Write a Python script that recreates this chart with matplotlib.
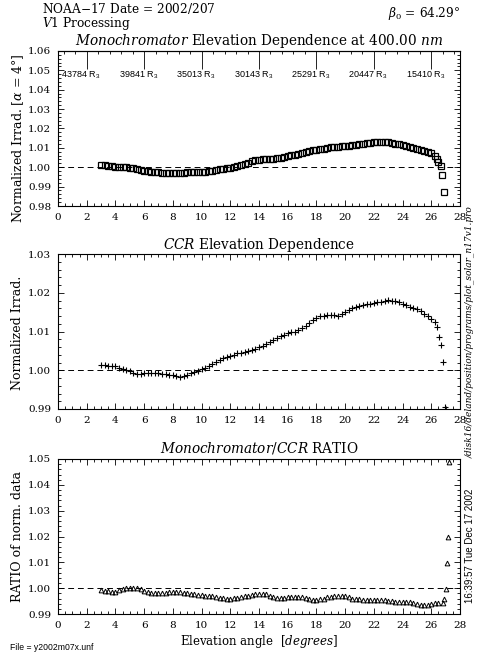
import numpy as np
import matplotlib
matplotlib.use("Agg")
import matplotlib.pyplot as plt
from matplotlib.ticker import MultipleLocator, FixedLocator, FormatStrFormatter, NullFormatter

plt.rcParams.update({
    "font.family": "DejaVu Serif",
    "mathtext.fontset": "custom",
    "mathtext.rm": "DejaVu Serif",
    "mathtext.it": "DejaVu Serif:italic",
    "mathtext.sf": "Liberation Sans",
    "axes.linewidth": 0.8,
})

# ---- scan data ----------------------------------------------------------
# elevation steps of the solar scan (degrees)
elevation = np.arange(3.0, 26.26, 0.25)

mono_irrad = [
    1.0012, 1.0010, 1.0008, 1.0005, 1.0003, 1.0002, 1.0001, 1.0000,
    0.9998, 0.9995, 0.9991, 0.9986, 0.9982, 0.9979, 0.9976, 0.9974,
    0.9973, 0.9972, 0.9971, 0.9971, 0.9971, 0.9971, 0.9972, 0.9972,
    0.9973, 0.9974, 0.9975, 0.9976, 0.9977, 0.9978, 0.9980, 0.9983,
    0.9986, 0.9989, 0.9992, 0.9995, 0.9998, 1.0002, 1.0008, 1.0013,
    1.0018, 1.0024, 1.0030, 1.0035, 1.0039, 1.0041, 1.0043, 1.0044,
    1.0045, 1.0047, 1.0049, 1.0053, 1.0057, 1.0061, 1.0065, 1.0070,
    1.0075, 1.0079, 1.0083, 1.0087, 1.0090, 1.0093, 1.0096, 1.0099,
    1.0102, 1.0104, 1.0106, 1.0108, 1.0110, 1.0112, 1.0114, 1.0117,
    1.0119, 1.0121, 1.0123, 1.0126, 1.0128, 1.0130, 1.0132, 1.0131,
    1.0129, 1.0126, 1.0122, 1.0118, 1.0114, 1.0110, 1.0105, 1.0100,
    1.0095, 1.0089, 1.0083, 1.0077, 1.0071, 1.0058,
]
mono_tail_elev = [26.40, 26.50, 26.65, 26.77, 26.86]
mono_tail_irrad = [1.0045, 1.0026, 1.0005, 0.9962, 0.9874]

ccr_irrad = [
    1.0014, 1.0013, 1.0012, 1.0011, 1.0011, 1.0007, 1.0004, 1.0000,
    0.9997, 0.9994, 0.9991, 0.9991, 0.9992, 0.9993, 0.9994, 0.9993,
    0.9992, 0.9991, 0.9990, 0.9989, 0.9987, 0.9985, 0.9982, 0.9984,
    0.9988, 0.9993, 0.9996, 0.9999, 1.0002, 1.0007, 1.0012, 1.0016,
    1.0021, 1.0026, 1.0031, 1.0035, 1.0038, 1.0040, 1.0044, 1.0045,
    1.0046, 1.0049, 1.0052, 1.0056, 1.0060, 1.0063, 1.0067, 1.0072,
    1.0078, 1.0083, 1.0088, 1.0092, 1.0096, 1.0098, 1.0100, 1.0104,
    1.0109, 1.0115, 1.0121, 1.0129, 1.0135, 1.0139, 1.0141, 1.0142,
    1.0143, 1.0142, 1.0140, 1.0145, 1.0151, 1.0156, 1.0160, 1.0164,
    1.0167, 1.0169, 1.0171, 1.0172, 1.0174, 1.0176, 1.0177, 1.0179,
    1.0181, 1.0180, 1.0178, 1.0175, 1.0172, 1.0168, 1.0164, 1.0161,
    1.0157, 1.0152, 1.0145, 1.0139, 1.0132, 1.0124,
]
ccr_tail_elev = [26.40, 26.55, 26.70, 26.80, 26.95]
ccr_tail_irrad = [1.0111, 1.0087, 1.0064, 1.0021, 0.9905]

ratio = [
    0.9992, 0.9990, 0.9988, 0.9987, 0.9986, 0.9991, 0.9997, 1.0000,
    1.0002, 1.0001, 0.9999, 0.9995, 0.9990, 0.9986, 0.9982, 0.9981,
    0.9980, 0.9981, 0.9982, 0.9984, 0.9986, 0.9986, 0.9985, 0.9982,
    0.9980, 0.9978, 0.9977, 0.9975, 0.9973, 0.9971, 0.9970, 0.9968,
    0.9966, 0.9963, 0.9961, 0.9960, 0.9960, 0.9961, 0.9963, 0.9966,
    0.9968, 0.9971, 0.9974, 0.9976, 0.9977, 0.9977, 0.9976, 0.9970,
    0.9964, 0.9963, 0.9962, 0.9963, 0.9964, 0.9966, 0.9967, 0.9966,
    0.9964, 0.9961, 0.9958, 0.9956, 0.9955, 0.9957, 0.9960, 0.9964,
    0.9967, 0.9969, 0.9970, 0.9969, 0.9968, 0.9964, 0.9960, 0.9959,
    0.9958, 0.9956, 0.9955, 0.9955, 0.9955, 0.9955, 0.9955, 0.9953,
    0.9951, 0.9949, 0.9947, 0.9947, 0.9947, 0.9946, 0.9945, 0.9941,
    0.9938, 0.9936, 0.9934, 0.9936, 0.9938, 0.9941,
]
ratio_tail_elev = [26.50, 26.81, 26.90, 27.00, 27.09, 27.19, 27.23]
ratio_tail = [0.9943, 0.9944, 0.9957, 0.9997, 1.0096, 1.0200, 1.0490]

# solar distance annotations along the top of the first panel
range_elev = [2, 6, 10, 14, 18, 22, 26]
range_values = ["43784", "39841", "35013", "30143", "25291", "20447", "15410"]

# ---- figure -------------------------------------------------------------
W, H = 481, 655
fig = plt.figure(figsize=(W / 100, H / 100), dpi=100)

def px_rect(top, bottom, left=58, right=460):
    return [left / W, 1 - bottom / H, (right - left) / W, (bottom - top) / H]

ax1 = fig.add_axes(px_rect(51, 206))
ax2 = fig.add_axes(px_rect(254, 409))
ax3 = fig.add_axes(px_rect(459, 614))

def style(ax, ylo, yhi, top=True):
    ax.set_xlim(0, 28)
    ax.set_ylim(ylo, yhi)
    ax.xaxis.set_major_locator(MultipleLocator(2))
    ax.xaxis.set_minor_locator(MultipleLocator(0.5))
    ax.yaxis.set_major_locator(MultipleLocator(0.01))
    ax.yaxis.set_minor_locator(MultipleLocator(0.002))
    ax.yaxis.set_major_formatter(FormatStrFormatter("%.2f"))
    ax.tick_params(which="both", direction="in", top=top, right=True,
                   width=0.6, labelsize=7.5, colors="black")
    ax.tick_params(which="major", length=4.3, pad=5)
    ax.tick_params(which="minor", length=2.2)
    ax.axhline(1.0, color="black", lw=0.7, ls=(0, (6, 4)), zorder=1)

style(ax1, 0.98, 1.06, top=False)
style(ax2, 0.99, 1.03)
style(ax3, 0.99, 1.05)

# top axis of the first panel carries the range markers
sec = ax1.secondary_xaxis("top")
sec.set_xticks(range_elev)
sec.xaxis.set_minor_locator(FixedLocator(np.arange(0.4, 28.0, 0.8)))
sec.xaxis.set_major_formatter(NullFormatter())
sec.tick_params(which="major", direction="in", length=13, width=0.6)
sec.tick_params(which="minor", direction="in", length=2.2, width=0.6)

for xe, rv in zip(range_elev, range_values):
    ax1.text(xe - 0.4, 1.0476, rv + r" R$_\mathsf{3}$", ha="center", va="center",
             fontsize=6.5, family="Liberation Sans")

mk = dict(color="black", linestyle="none", zorder=3)
sq = dict(marker="s", ms=3.7, mfc="none", mew=0.9)
pl = dict(marker="+", ms=4.6, mew=0.8)
tr = dict(marker="^", ms=3.4, mfc="none", mew=0.7)
ax1.plot(elevation, mono_irrad, **sq, **mk)
ax1.plot(mono_tail_elev, mono_tail_irrad, **sq, **mk)
ax2.plot(elevation, ccr_irrad, **pl, **mk)
ax2.plot(ccr_tail_elev, ccr_tail_irrad, **pl, **mk)
ax3.plot(elevation, ratio, **tr, **mk)
ax3.plot(ratio_tail_elev, ratio_tail, **tr, **mk)

# panel titles
def title(ax, s, dy):
    ax.text(0.5, 1 + dy / 155, s, transform=ax.transAxes, ha="center",
            va="center", fontsize=9.8)

title(ax1, r"$\mathit{Monochromator}$ Elevation Dependence at $\mathit{400.00\ nm}$", 9.5)
title(ax2, r"$\mathit{CCR}$ Elevation Dependence", 9)
title(ax3, r"$\mathit{Monochromator/CCR}$ RATIO", 11)

# y labels
def ylab(ax, s, yc_px, top_px):
    ax.text(-(58 - 18) / 402, 1 - (yc_px - top_px) / 155, s, transform=ax.transAxes,
            rotation=90, ha="center", va="center", fontsize=9)

ylab(ax1, r"Normalized Irrad. [$\alpha$ = 4°]", 138, 51)
ylab(ax2, "Normalized Irrad.", 333, 254)
ylab(ax3, "RATIO of norm. data", 536, 459)

ax3.text(0.5, -(641 - 614) / 155, r"Elevation angle  [$\mathit{degrees}$]",
         transform=ax3.transAxes, ha="center", va="center", fontsize=8.5)

# header and footer annotations
fig.text(42 / W, 1 - 9 / H, r"NOAA−17 Date = $\mathit{2002/207}$",
         ha="left", va="center", fontsize=8.7)
fig.text(42 / W, 1 - 24 / H, r"$\mathit{V1}$ Processing",
         ha="left", va="center", fontsize=8.7)
fig.text(460 / W, 1 - 13 / H, r"$\beta_0$ = 64.29°",
         ha="right", va="center", fontsize=8.7)
fig.text(10 / W, 1 - 647 / H, "File = y2002m07x.unf", ha="left", va="center",
         fontsize=6.2, family="Liberation Sans")
fig.text(470 / W, 1 - 603 / H, "16:39:57 Tue Dec 17 2002", rotation=90,
         ha="center", va="bottom", fontsize=7, family="Liberation Sans")
fig.text(470 / W, 1 - 458 / H, "/disk16/deland/position/programs/plot_solar_n17v1.pro",
         rotation=90, ha="center", va="bottom", fontsize=6.5, style="italic")

fig.savefig("out.png", dpi=100)
